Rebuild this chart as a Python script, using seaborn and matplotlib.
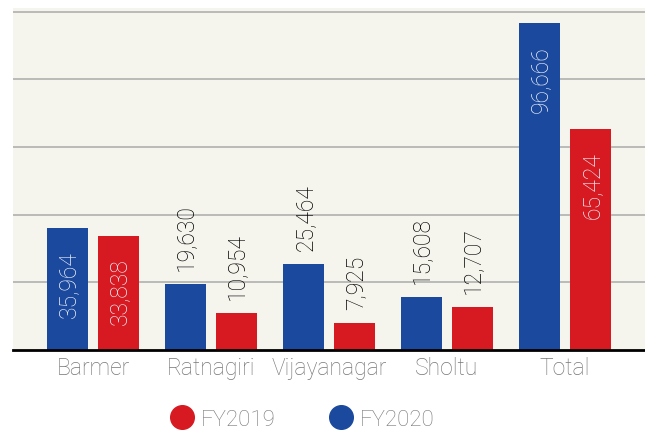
import pandas as pd
import matplotlib
matplotlib.use('Agg')
import matplotlib.pyplot as plt
from matplotlib.lines import Line2D
import seaborn as sns

# data
regions = ['Barmer', 'Ratnagiri', 'Vijayanagar', 'Sholtu', 'Total']
fy2020 = [35964, 19630, 25464, 15608, 96666]
fy2019 = [33838, 10954, 7925, 12707, 65424]
inside_labels = ['Barmer', 'Total']

blue = '#1a499e'
red = '#d71a21'

df = pd.DataFrame({
    'region': regions * 2,
    'value': fy2020 + fy2019,
    'year': ['FY2020'] * len(regions) + ['FY2019'] * len(regions),
})

sns.set_style('white')
plt.rcParams['font.family'] = ['Roboto', 'DejaVu Sans']

fig = plt.figure(figsize=(6.45, 4.31), dpi=100)
ax = fig.add_axes([13 / 645, 80 / 431, 632 / 645, 338.3 * 1.01 / 431])
ax.set_facecolor('#f5f5ee')

sns.barplot(data=df, x='region', y='value', hue='year',
            hue_order=['FY2020', 'FY2019'], palette=[blue, red],
            width=0.864, gap=0.196, saturation=1, errorbar=None,
            linewidth=0, edgecolor='none', legend=False, ax=ax)

# value labels, rotated
for cont, hue in zip(ax.containers, ['FY2020', 'FY2019']):
    for bar, reg in zip(cont, regions):
        h = bar.get_height()
        x = bar.get_x() + bar.get_width() / 2
        if reg in inside_labels:
            ax.annotate(f'{h:,.0f}', (x, h), xytext=(1, -16), textcoords='offset points',
                        rotation=90, ha='center', va='top', fontsize=16.5,
                        fontweight='light', color='#eef1f8')
        else:
            ax.annotate(f'{h:,.0f}', (x, h), xytext=(1, 10), textcoords='offset points',
                        rotation=90, ha='center', va='bottom', fontsize=16.5,
                        fontweight='light', color='#000000')

ax.set_xlim(-0.678, 4.678)
ax.set_ylim(0, 101000)
ax.set_yticks([20000, 40000, 60000, 80000, 100000])
ax.set_yticklabels([])
ax.yaxis.grid(True, color='#aaaaaa', linewidth=1.1)
ax.set_axisbelow(True)
ax.tick_params(axis='both', length=0)
ax.tick_params(axis='x', pad=4, labelsize=16.5, labelcolor='#777777')
for lbl in ax.get_xticklabels():
    lbl.set_fontweight('light')
ax.set_xlabel('')
ax.set_ylabel('')
for s in ['left', 'right', 'top']:
    ax.spines[s].set_visible(False)
ax.spines['bottom'].set_color('black')
ax.spines['bottom'].set_linewidth(2)

handles = [Line2D([], [], marker='o', linestyle='', markersize=17, color=red),
           Line2D([], [], marker='o', linestyle='', markersize=17, color=blue)]
leg = fig.legend(handles, ['FY2019', 'FY2020'], loc='center', ncol=2,
                 bbox_to_anchor=(0.468, 0.025), frameon=False, fontsize=16,
                 handlelength=1.1, handletextpad=0.3, columnspacing=2.4,
                 labelcolor='#777777')
for t in leg.get_texts():
    t.set_fontweight('light')

fig.savefig('out.png', dpi=100, facecolor='white')
